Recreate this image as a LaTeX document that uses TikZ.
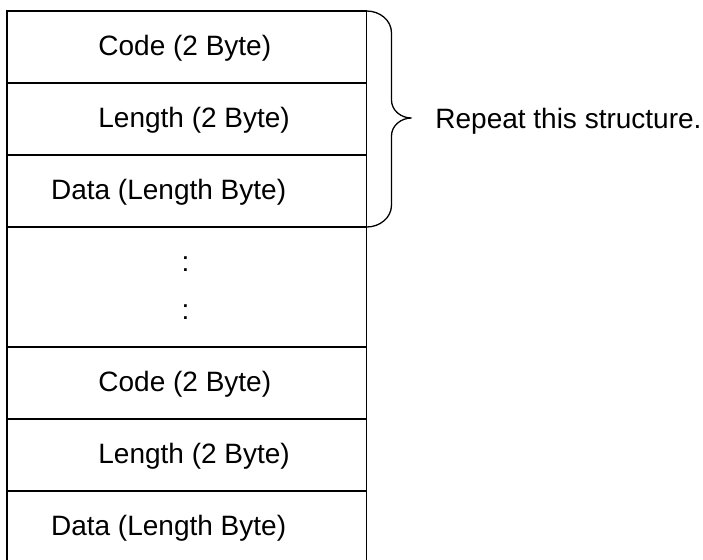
\documentclass[tikz,border=0pt]{standalone}
\usepackage{fontspec}
\setmainfont{Liberation Sans}
\begin{document}
\begin{tikzpicture}[x=0.5pt,y=-0.5pt,
  rowbox/.style={draw, line width=0.65pt, rectangle, inner sep=0pt, outer sep=0pt, minimum width=179.85pt, minimum height=36pt},
  lbl/.style={anchor=base west, inner sep=0pt, font=\fontsize{14pt}{16pt}\selectfont},
  bracestyle/.style={line width=0.65pt}]
\useasboundingbox (0,0) rectangle (703,559);
\node[rowbox] (r1) at (186.85,47) {};
\node[rowbox] (r2) at (186.85,119) {};
\node[rowbox] (r3) at (186.85,191) {};
\node[rowbox, minimum height=60pt] (r4) at (186.85,287) {};
\node[rowbox] (r5) at (186.85,383) {};
\node[rowbox] (r6) at (186.85,455) {};
\node[rowbox] (r7) at (186.85,527) {};
\node[lbl] (t1) at (98,55) {Code (2 Byte)};
\node[lbl] (t2) at (98,127.7) {Length (2 Byte)};
\node[lbl] (t3) at (50.7,199.4) {Data (Length Byte)};
\node[lbl, anchor=base] (d1) at (185.5,271.7) {:};
\node[lbl, anchor=base] (d2) at (185.5,319) {:};
\node[lbl] (t5) at (98,391.7) {Code (2 Byte)};
\node[lbl] (t6) at (98,463.3) {Length (2 Byte)};
\node[lbl] (t7) at (50.7,535) {Data (Length Byte)};
\node[lbl] (rep) at (435,128.3) {Repeat this structure.};
\coordinate (tip) at (411.5,118);
\draw[bracestyle] (r1.north east) to[out=0,in=90] (391.5,33) -- (391.5,100)
  to[out=-90,in=180] (tip) to[out=180,in=90] (391.5,136) -- (391.5,205)
  to[out=-90,in=0] (r3.south east);
\end{tikzpicture}
\end{document}
